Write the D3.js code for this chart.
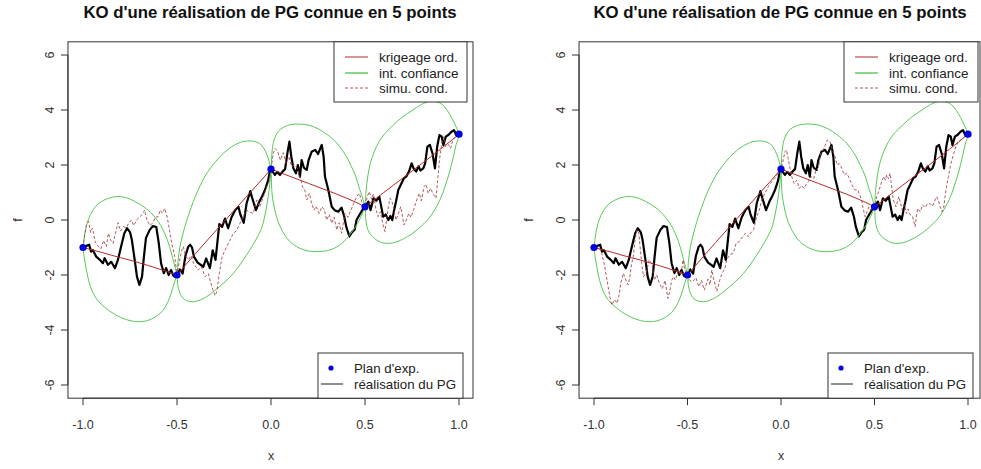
<!DOCTYPE html>
<html><head><meta charset="utf-8">
<script src="https://cdn.jsdelivr.net/npm/d3@7/dist/d3.min.js"></script>
<style>body{margin:0;background:#fff} svg{display:block} text{font-family:"Liberation Sans",Arial,sans-serif}</style>
</head><body><svg id="c" width="981" height="469"></svg>
<script>
const titleText = "KO d'une réalisation de PG connue en 5 points";
const xLabel = "x", yLabel = "f";
const xTicks = [-1, -0.5, 0, 0.5, 1];
const xTickLabels = ["-1.0", "-0.5", "0.0", "0.5", "1.0"];
const yTicks = [-6, -4, -2, 0, 2, 4, 6];
const legendTopLabels = ["krigeage ord.", "int. confiance", "simu. cond."];
const legendBotLabels = ["Plan d'exp.", "réalisation du PG"];

const designX = [-1, -0.5, 0, 0.5, 1];
const designY = [-1.0, -2.0, 1.85, 0.48, 3.12];

const krigX = [-1,-0.95,-0.9,-0.85,-0.8,-0.75,-0.7,-0.65,-0.6,-0.55,-0.5,-0.45,-0.4,-0.35,-0.3,-0.25,-0.2,-0.15,-0.1,-0.05,0,0.05,0.1,0.15,0.2,0.25,0.3,0.35,0.4,0.45,0.5,0.55,0.6,0.65,0.7,0.75,0.8,0.85,0.9,0.95,1];
const krigY = [-1.0,-1.09,-1.18,-1.28,-1.37,-1.46,-1.56,-1.66,-1.77,-1.88,-2.0,-1.6,-1.21,-0.82,-0.44,-0.06,0.32,0.7,1.08,1.46,1.85,1.72,1.59,1.46,1.33,1.2,1.07,0.94,0.8,0.65,0.48,0.74,1.0,1.26,1.52,1.78,2.04,2.3,2.57,2.84,3.12];

const ciX = [-1,-0.995,-0.985,-0.97,-0.95,-0.925,-0.9,-0.85,-0.8,-0.75,-0.7,-0.65,-0.6,-0.575,-0.55,-0.53,-0.515,-0.505,
 -0.5,-0.495,-0.485,-0.47,-0.45,-0.425,-0.4,-0.35,-0.3,-0.25,-0.2,-0.15,-0.1,-0.075,-0.05,-0.03,-0.015,-0.005,
 0,0.005,0.015,0.03,0.05,0.075,0.1,0.15,0.2,0.25,0.3,0.35,0.4,0.425,0.45,0.47,0.485,0.495,
 0.5,0.505,0.515,0.53,0.55,0.575,0.6,0.65,0.7,0.75,0.8,0.85,0.9,0.925,0.95,0.97,0.985,0.995,1];
const ciUpper = [-1.0,-0.7,-0.3,0.05,0.33,0.55,0.68,0.82,0.85,0.76,0.58,0.34,-0.06,-0.35,-0.75,-1.2,-1.6,-1.85,
 -2.0,-1.5,-1.0,-0.55,-0.05,0.45,0.9,1.6,2.08,2.45,2.7,2.85,2.87,2.83,2.72,2.5,2.25,2.0,
 1.85,2.45,2.88,3.13,3.3,3.4,3.46,3.49,3.45,3.32,3.1,2.8,2.32,1.98,1.6,1.15,0.85,0.62,
 0.48,1.0,1.6,2.1,2.5,2.85,3.1,3.45,3.75,3.98,4.2,4.32,4.25,4.1,3.85,3.6,3.38,3.22,3.12];
const ciLower = [-1.0,-1.3,-1.7,-2.2,-2.6,-2.9,-3.08,-3.35,-3.54,-3.66,-3.7,-3.64,-3.45,-3.29,-3.0,-2.65,-2.3,-2.1,
 -2.0,-2.4,-2.65,-2.83,-2.93,-2.97,-2.96,-2.82,-2.57,-2.28,-1.94,-1.48,-0.95,-0.65,-0.3,0.25,0.85,1.4,
 1.85,1.0,0.55,0.1,-0.26,-0.56,-0.78,-1.02,-1.13,-1.15,-1.11,-0.98,-0.7,-0.48,-0.24,0.0,0.22,0.38,
 0.48,-0.05,-0.35,-0.53,-0.67,-0.78,-0.84,-0.83,-0.7,-0.5,-0.22,0.15,0.75,1.2,1.75,2.3,2.75,2.95,3.12];

const realX = [-1.0,-0.985,-0.967,-0.957,-0.947,-0.93,-0.91,-0.894,-0.885,-0.867,-0.85,-0.83,-0.814,-0.798,-0.78,-0.766,-0.75,-0.74,-0.725,-0.713,-0.70,-0.686,-0.676,-0.665,-0.645,-0.628,-0.61,-0.597,-0.585,-0.57,-0.558,-0.544,-0.532,-0.518,
 -0.5,-0.485,-0.47,-0.455,-0.44,-0.43,-0.42,-0.41,-0.39,-0.36,-0.345,-0.325,-0.31,-0.295,-0.275,-0.26,-0.245,-0.228,-0.21,-0.19,-0.173,-0.163,-0.145,-0.13,-0.11,-0.1,-0.08,-0.06,-0.048,-0.032,-0.015,-0.005,
 0.0,0.01,0.021,0.033,0.048,0.06,0.075,0.087,0.098,0.108,0.119,0.133,0.143,0.154,0.163,0.175,0.19,0.2,0.216,0.235,0.25,0.27,0.28,0.287,0.305,0.323,0.34,0.358,0.375,0.39,0.4,0.417,0.43,0.445,0.455,0.47,0.485,
 0.5,0.518,0.53,0.545,0.56,0.576,0.59,0.597,0.61,0.624,0.635,0.645,0.655,0.665,0.677,0.69,0.707,0.72,0.734,0.748,0.76,0.772,0.785,0.795,0.81,0.82,0.832,0.845,0.86,0.872,0.884,0.896,0.908,0.917,0.93,0.945,0.96,0.973,0.985,1.0];
const realY = [-1.0,-0.95,-0.9,-1.15,-1.1,-1.33,-1.45,-1.57,-1.39,-1.63,-1.52,-1.75,-1.45,-0.98,-0.48,-0.3,-0.44,-0.73,-1.45,-2.06,-2.36,-2.06,-1.34,-0.65,-0.36,-0.22,-0.26,-0.84,-1.57,-1.93,-1.75,-2.0,-1.82,-2.04,
 -2.0,-1.8,-1.95,-1.3,-0.97,-0.9,-1.0,-1.33,-1.55,-1.7,-1.4,-1.75,-1.1,-1.45,-0.15,-0.25,0.05,-0.3,0.1,0.36,0.48,0.2,-0.1,0.6,1.05,0.8,0.36,0.7,0.85,1.09,1.45,1.82,
 1.85,1.75,1.64,1.75,1.64,1.75,1.85,2.42,2.85,2.3,1.88,1.7,2.0,1.58,2.18,1.9,1.82,2.18,2.48,2.55,2.4,2.73,2.3,1.58,1.09,0.48,0.35,0.3,0.45,0.12,-0.24,-0.6,-0.45,-0.35,0.0,0.18,0.35,
 0.48,0.67,0.36,0.79,0.7,0.85,0.36,0.12,0.2,0.0,0.15,0.0,0.36,0.67,1.09,1.27,1.52,1.58,1.76,2.06,1.85,1.76,1.95,1.8,1.88,2.06,2.67,2.73,2.4,1.88,2.67,3.09,3.03,2.73,3.03,3.1,3.21,3.27,3.09,3.12];

const sim1X = [-1,-0.99,-0.98,-0.97,-0.96,-0.95,-0.935,-0.92,-0.905,-0.89,-0.876,-0.865,-0.855,-0.84,-0.828,-0.814,-0.8,-0.785,-0.77,-0.755,-0.743,-0.73,-0.715,-0.7,-0.685,-0.672,-0.66,-0.645,-0.63,-0.615,-0.6,-0.59,-0.578,-0.565,-0.552,-0.54,-0.528,-0.512,
 -0.5,-0.49,-0.475,-0.466,-0.455,-0.44,-0.425,-0.41,-0.387,-0.37,-0.35,-0.333,-0.315,-0.298,-0.288,-0.275,-0.26,-0.245,-0.218,-0.2,-0.185,-0.165,-0.148,-0.13,-0.115,-0.095,-0.076,-0.06,-0.04,-0.023,-0.01,
 0,0.012,0.022,0.035,0.05,0.065,0.08,0.095,0.11,0.125,0.14,0.154,0.168,0.18,0.19,0.204,0.216,0.229,0.24,0.256,0.27,0.283,0.296,0.31,0.323,0.335,0.35,0.362,0.376,0.393,0.41,0.425,0.44,0.455,0.47,0.485,
 0.5,0.512,0.523,0.535,0.545,0.557,0.57,0.582,0.594,0.606,0.615,0.624,0.633,0.642,0.651,0.665,0.678,0.69,0.7,0.707,0.72,0.733,0.745,0.758,0.775,0.789,0.8,0.814,0.825,0.836,0.849,0.862,0.878,0.885,0.896,0.908,0.92,0.93,0.943,0.955,0.967,0.982,1];
const sim1Y = [-1.0,-0.5,-0.15,-0.06,-0.45,-0.3,-0.8,-0.95,-1.05,-0.75,-0.97,-0.48,-0.7,-0.85,-0.5,-0.1,-0.4,-0.24,-0.28,-0.1,0.0,-0.2,0.0,0.1,0.2,0.36,0.0,-0.2,-0.12,0.1,0.12,0.36,0.25,0.42,0.1,-0.36,-0.85,-1.33,
 -2.0,-1.6,-1.1,-0.97,-1.3,-1.45,-1.3,-1.6,-1.82,-1.7,-2.06,-1.95,-2.42,-2.75,-2.6,-1.94,-1.33,-1.1,-0.73,-0.48,-0.4,-0.12,0.12,0.36,0.3,0.24,0.73,0.48,0.85,1.21,1.4,
 1.85,2.42,2.6,2.5,2.18,2.45,2.06,2.3,1.94,2.0,1.88,1.58,1.21,1.09,0.73,0.97,0.6,0.36,0.5,0.24,0.48,0.4,0.0,0.2,-0.12,0.1,-0.36,-0.1,-0.48,0.24,0.1,0.36,0.6,0.85,0.97,0.6,
 0.48,0.85,1.03,0.75,0.95,0.42,0.12,0.3,-0.12,-0.42,0.0,0.48,0.79,0.7,0.48,0.0,0.25,0.48,0.12,-0.18,0.0,0.24,0.1,0.36,0.73,0.97,0.7,1.21,1.3,0.97,1.15,0.95,0.79,1.33,2.18,2.79,3.03,2.67,2.75,2.6,2.91,3.03,3.12];

const sim2X = [-1,-0.985,-0.963,-0.945,-0.93,-0.915,-0.905,-0.89,-0.877,-0.865,-0.857,-0.843,-0.83,-0.817,-0.808,-0.8,-0.79,-0.78,-0.77,-0.76,-0.752,-0.745,-0.735,-0.72,-0.705,-0.69,-0.678,-0.665,-0.65,-0.635,-0.62,-0.605,-0.595,-0.585,-0.575,-0.565,-0.55,-0.535,-0.524,-0.515,
 -0.5,-0.49,-0.475,-0.455,-0.44,-0.425,-0.41,-0.39,-0.38,-0.37,-0.358,-0.343,-0.328,-0.315,-0.3,-0.29,-0.28,-0.27,-0.255,-0.24,-0.225,-0.205,-0.19,-0.175,-0.16,-0.147,-0.13,-0.116,-0.103,-0.086,-0.068,-0.05,-0.032,-0.015,
 0,0.012,0.021,0.03,0.038,0.048,0.057,0.07,0.084,0.098,0.11,0.123,0.135,0.146,0.16,0.175,0.187,0.2,0.212,0.225,0.235,0.248,0.262,0.275,0.289,0.3,0.312,0.325,0.338,0.352,0.365,0.38,0.396,0.41,0.422,0.431,0.44,0.45,0.46,0.47,0.48,0.49,
 0.5,0.512,0.525,0.538,0.55,0.558,0.565,0.575,0.583,0.592,0.6,0.615,0.63,0.64,0.648,0.66,0.67,0.68,0.69,0.704,0.717,0.725,0.732,0.745,0.757,0.77,0.782,0.797,0.81,0.824,0.833,0.842,0.851,0.862,0.87,0.882,0.895,0.907,0.921,0.936,0.948,0.962,0.979,1];
const sim2Y = [-1.0,-1.0,-1.09,-1.6,-2.2,-2.8,-3.09,-2.9,-3.03,-2.7,-2.3,-1.94,-2.18,-2.36,-2.06,-1.64,-1.33,-0.7,-0.36,-0.48,-1.09,-1.58,-2.06,-1.9,-1.45,-1.6,-2.18,-2.0,-2.3,-2.5,-2.2,-2.85,-2.6,-2.2,-2.06,-2.18,-1.82,-2.0,-1.45,-1.8,
 -2.0,-2.18,-2.25,-2.1,-2.42,-2.2,-2.55,-2.15,-2.36,-1.82,-2.2,-2.6,-2.2,-1.94,-1.76,-1.45,-1.33,-1.25,-1.21,-0.85,-0.8,-0.6,-0.48,-0.6,-0.45,-0.36,0.12,0.36,0.73,0.97,1.21,1.39,1.52,1.7,
 1.85,2.18,2.48,2.55,2.24,1.88,1.58,1.33,1.45,1.15,1.25,1.15,1.3,1.39,1.58,1.5,1.82,1.9,2.42,2.55,2.7,2.91,2.85,2.55,2.3,2.0,2.05,1.88,1.64,1.7,1.52,1.27,1.09,1.1,0.91,0.73,0.4,0.12,0.3,0.48,0.35,0.45,
 0.48,0.85,1.09,1.39,1.58,1.45,1.64,1.5,1.7,1.21,0.73,0.48,0.85,0.6,0.36,0.55,0.24,0.4,0.2,0.12,-0.24,0.2,0.42,0.3,0.55,0.45,0.58,0.6,0.5,0.73,0.85,0.7,0.48,0.3,0.45,1.09,1.58,2.0,2.36,2.67,2.85,2.91,3.03,3.12];

const COL_KRIG = "#b22a2a", COL_CI = "#58c858", COL_SIM = "#a8484a", COL_PT = "#0000e0";

const panels = [
  {xr: [83, 459], boxR: 473, cx: 270, legTop: [334, 467], legBot: [318, 463], simX: sim1X, simY: sim1Y},
  {xr: [594, 968], boxR: 980, cx: 780, legTop: [844, 978], legBot: [828, 973], simX: sim2X, simY: sim2Y}
];

const svg = d3.select("#c");
const y = d3.scaleLinear().domain([-6, 6]).range([385, 55]);

panels.forEach(p => {
  const x = d3.scaleLinear().domain([-1, 1]).range(p.xr);
  const g = svg.append("g");
  const L = x(-1.08), R = p.boxR, T = y(6.48), B = y(-6.48);

  // title
  g.append("text").attr("x", p.cx).attr("y", 18).attr("text-anchor", "middle")
    .attr("font-size", 16.8).attr("font-weight", "bold").attr("fill", "#111").text(titleText);

  // clip
  const cid = "clip" + p.cx;
  g.append("clipPath").attr("id", cid).append("rect").attr("x", L).attr("y", T).attr("width", R - L).attr("height", B - T);
  const pg = g.append("g").attr("clip-path", `url(#${cid})`);

  const line = d3.line().x(d => x(d[0])).y(d => y(d[1]));
  const smooth = d3.line().x(d => x(d[0])).y(d => y(d[1])).curve(d3.curveCatmullRom.alpha(0.5));

  // realisation
  pg.append("path").datum(realX.map((v, i) => [v, realY[i]])).attr("d", line)
    .attr("fill", "none").attr("stroke", "#000").attr("stroke-width", 2.2).attr("stroke-linejoin", "round");
  // kriging
  pg.append("path").datum(krigX.map((v, i) => [v, krigY[i]])).attr("d", line)
    .attr("fill", "none").attr("stroke", COL_KRIG).attr("stroke-width", 1);
  // CI
  [ciUpper, ciLower].forEach(arr => {
    pg.append("path").datum(ciX.map((v, i) => [v, arr[i]])).attr("d", smooth)
      .attr("fill", "none").attr("stroke", COL_CI).attr("stroke-width", 1);
  });
  // conditional simulation
  pg.append("path").datum(p.simX.map((v, i) => [v, p.simY[i]])).attr("d", line)
    .attr("fill", "none").attr("stroke", COL_SIM).attr("stroke-width", 0.9).attr("stroke-dasharray", "3,2");
  // design points
  pg.selectAll("circle.pt").data(designX.map((v, i) => [v, designY[i]])).enter().append("circle")
    .attr("cx", d => x(d[0])).attr("cy", d => y(d[1])).attr("r", 3.6).attr("fill", COL_PT);

  // box
  g.append("rect").attr("x", L).attr("y", T).attr("width", R - L).attr("height", B - T)
    .attr("fill", "none").attr("stroke", "#333").attr("stroke-width", 1);

  // x axis
  const xa = g.append("g");
  xa.append("line").attr("x1", x(-1)).attr("x2", x(1)).attr("y1", B).attr("y2", B).attr("stroke", "#333");
  xTicks.forEach((t, i) => {
    xa.append("line").attr("x1", x(t)).attr("x2", x(t)).attr("y1", B).attr("y2", B + 7).attr("stroke", "#333");
    xa.append("text").attr("x", x(t)).attr("y", 429).attr("text-anchor", "middle")
      .attr("font-size", 12.5).attr("fill", "#333").text(xTickLabels[i]);
  });
  g.append("text").attr("x", x(0)).attr("y", 460).attr("text-anchor", "middle")
    .attr("font-size", 12.5).attr("fill", "#333").text(xLabel);

  // y axis
  const ya = g.append("g");
  ya.append("line").attr("x1", L).attr("x2", L).attr("y1", y(-6)).attr("y2", y(6)).attr("stroke", "#333");
  yTicks.forEach(t => {
    ya.append("line").attr("x1", L - 7).attr("x2", L).attr("y1", y(t)).attr("y2", y(t)).attr("stroke", "#333");
    ya.append("text").attr("transform", `translate(${L - 14},${y(t)}) rotate(-90)`).attr("text-anchor", "middle")
      .attr("font-size", 12.5).attr("fill", "#333").text(String(t));
  });
  g.append("text").attr("transform", `translate(${L - 46},${y(0)}) rotate(-90)`).attr("text-anchor", "middle")
    .attr("font-size", 12.5).attr("fill", "#333").text(yLabel);

  // top legend
  const [a0, a1] = p.legTop;
  g.append("rect").attr("x", a0).attr("y", T).attr("width", a1 - a0).attr("height", 102 - T)
    .attr("fill", "#fff").attr("stroke", "#333");
  const rowsT = [57, 73, 88];
  const styles = [
    {c: COL_KRIG, w: 1, d: null},
    {c: COL_CI, w: 1.4, d: null},
    {c: COL_SIM, w: 0.9, d: "3,2"}
  ];
  rowsT.forEach((ry, i) => {
    const ln = g.append("line").attr("x1", a0 + 11).attr("x2", a0 + 34).attr("y1", ry).attr("y2", ry)
      .attr("stroke", styles[i].c).attr("stroke-width", styles[i].w);
    if (styles[i].d) ln.attr("stroke-dasharray", styles[i].d);
    g.append("text").attr("x", a0 + 45).attr("y", ry).attr("dy", "0.36em").attr("font-size", 13.5)
      .attr("fill", "#222").text(legendTopLabels[i]);
  });

  // bottom legend
  const [b0, b1] = p.legBot;
  g.append("rect").attr("x", b0).attr("y", 353).attr("width", b1 - b0).attr("height", B - 353)
    .attr("fill", "#fff").attr("stroke", "#333");
  g.append("circle").attr("cx", b0 + 13).attr("cy", 368).attr("r", 2.6).attr("fill", COL_PT);
  g.append("line").attr("x1", b0 + 3).attr("x2", b0 + 25).attr("y1", 384).attr("y2", 384)
    .attr("stroke", "#444").attr("stroke-width", 1.2);
  [368, 384].forEach((ry, i) => {
    g.append("text").attr("x", b0 + 36).attr("y", ry).attr("dy", "0.36em").attr("font-size", 13.3)
      .attr("fill", "#222").text(legendBotLabels[i]);
  });
});
</script></body></html>
